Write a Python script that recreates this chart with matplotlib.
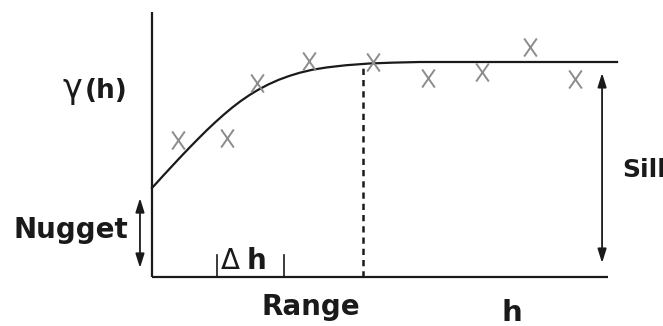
import matplotlib
matplotlib.use("Agg")
import matplotlib.pyplot as plt
from matplotlib.path import Path
import numpy as np

# semivariogram sketch: lag h (range = 10) against gamma (sill = 1)
nugget = 0.414
sill = 1.0
range_h = 10.0
h_max = 21.6

# fitted model curve, read point by point
curve_h = [0.0, 0.5, 1.0, 1.4, 1.8, 2.2, 2.6, 3.0, 3.4, 3.8, 4.2, 4.6, 5.0,
           5.5, 6.0, 6.5, 7.0, 7.6, 8.3, 9.2, 10.3, 11.4, 12.7, 22.04]
curve_g = [0.414, 0.468, 0.521, 0.563, 0.604, 0.644, 0.683, 0.720, 0.755, 0.788, 0.818, 0.845, 0.869,
           0.895, 0.917, 0.935, 0.950, 0.964, 0.975, 0.985, 0.993, 0.997, 1.0, 1.0]

# experimental semivariogram points
exp_h = [1.23, 3.55, 4.98, 7.44, 10.47, 13.08, 15.64, 17.91, 20.05]
exp_g = [0.637, 0.647, 0.902, 1.005, 1.0, 0.926, 0.953, 1.070, 0.921]

# lag interval marks
dh_left = 3.08
dh_right = 6.26

ink = "#1a1a1a"
fig = plt.figure(figsize=(6.63, 3.26), dpi=100)
ax = fig.add_axes([0, 0, 1, 1])
ax.set_xlim(-7.204, 24.218)
ax.set_ylim(-0.228, 1.2884)
ax.axis("off")

# axes
ax.plot([0, 0], [0, 1.233], color=ink, lw=1.6, solid_capstyle="butt")
ax.plot([0, h_max], [0, 0], color=ink, lw=1.6, solid_capstyle="butt")

# model curve
ax.plot(curve_h, curve_g, color=ink, lw=1.6, solid_joinstyle="round")

# range marker
ax.plot([range_h, range_h], [0, 0.99], color=ink, lw=1.8, linestyle=(0, (2.5, 2)))

# experimental points
cross = Path([(-0.7, -1), (0.7, 1), (-0.7, 1), (0.7, -1)],
             [Path.MOVETO, Path.LINETO, Path.MOVETO, Path.LINETO])
ax.plot(exp_h, exp_g, linestyle="none", marker=cross, markersize=13,
        markeredgewidth=1.4, color="#8c8c8c")

# nugget and sill arrows
arrow = dict(arrowstyle="<|-|>,head_length=0.7,head_width=0.22", lw=1.3,
             color=ink, shrinkA=0, shrinkB=0, mutation_scale=12)
ax.annotate("", xy=(-0.57, 0.042), xytext=(-0.57, 0.367), arrowprops=arrow)
ax.annotate("", xy=(21.33, 0.065), xytext=(21.33, 0.949), arrowprops=arrow)

# lag interval ticks
for x in (dh_left, dh_right):
    ax.plot([x, x], [0, 0.10], color=ink, lw=1.2)

bold = dict(family="DejaVu Sans", weight="bold", color=ink)
ax.text(-4.265, 0.833, "γ", fontsize=24, ha="left", va="baseline",
        family="DejaVu Sans", color=ink)
ax.text(-3.175, 0.833, "(h)", fontsize=19, ha="left", va="baseline", **bold)
ax.text(-3.85, 0.18, "Nugget", fontsize=20, ha="center", va="baseline", **bold)
ax.text(3.25, 0.037, "Δ", fontsize=20, ha="left", va="baseline",
        family="DejaVu Sans", color=ink)
ax.text(4.5, 0.037, "h", fontsize=20, ha="left", va="baseline", **bold)
ax.text(7.55, -0.177, "Range", fontsize=20, ha="center", va="baseline", **bold)
ax.text(17.06, -0.207, "h", fontsize=21, ha="center", va="baseline", **bold)
ax.text(22.3, 0.498, "Sill", fontsize=18, ha="left", va="center", **bold)

fig.savefig("out.png", dpi=100)
